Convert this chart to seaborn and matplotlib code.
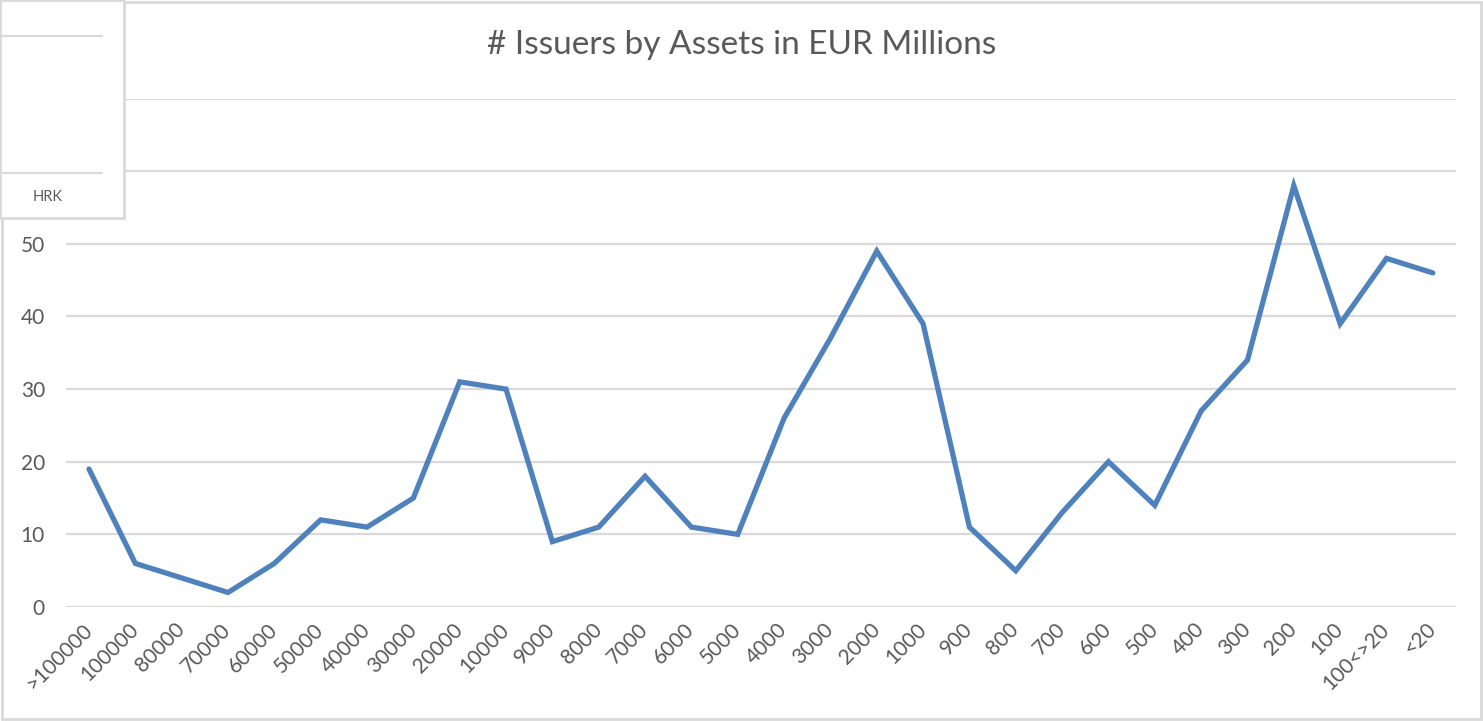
import numpy as np
import pandas as pd
import matplotlib
matplotlib.use('Agg')
import matplotlib.pyplot as plt
import seaborn as sns
from matplotlib.patches import Rectangle
from matplotlib.lines import Line2D

# asset buckets (EUR millions) and number of issuers in each
buckets = ['>100000', '100000', '80000', '70000', '60000', '50000', '40000',
           '30000', '20000', '10000', '9000', '8000', '7000', '6000', '5000',
           '4000', '3000', '2000', '1000', '900', '800', '700', '600', '500',
           '400', '300', '200', '100', '100<>20', '<20']
issuers = [19, 6, 4, 2, 6, 12, 11, 15, 31, 30, 9, 11, 18, 11, 10,
           26, 37, 49, 39, 11, 5, 13, 20, 14, 27, 34, 58, 39, 48, 46]
y_ticks = [0, 10, 20, 30, 40, 50, 60, 70]

df = pd.DataFrame({'bucket': buckets, 'issuers': issuers})

sns.set_theme(style='white')
plt.rcParams['font.family'] = ['Lato', 'DejaVu Sans']

grey_txt = '#595959'
grey_line = '#D9D9D9'
blue = '#4F81BD'

fig = plt.figure(figsize=(14.83, 7.21), dpi=100)
ax = fig.add_axes([0.04437, 0.15811, 0.93742, 0.70514])

sns.lineplot(data=df, x='bucket', y='issuers', sort=False, ax=ax,
             color=blue, linewidth=3.8, solid_joinstyle='miter')

ax.set_xlim(-0.5, len(buckets) - 0.5)
ax.set_ylim(0, 70)
ax.set_yticks(y_ticks)
ax.yaxis.grid(True, color=grey_line, linewidth=1.6)
ax.set_axisbelow(True)
for s in ax.spines.values():
    s.set_visible(False)
ax.set_xlabel('')
ax.set_ylabel('')
ax.tick_params(axis='y', length=0, pad=15, labelsize=15, labelcolor=grey_txt)
ax.tick_params(axis='x', length=0, pad=14, labelsize=15, labelcolor=grey_txt)
plt.setp(ax.get_xticklabels(), rotation=45, ha='right', va='center',
         rotation_mode='anchor')

# chart frame
fig.add_artist(Rectangle((0.0015, 0.003), 0.997, 0.994, transform=fig.transFigure,
                         fill=False, edgecolor=grey_line, linewidth=2))

fig.text(0.5, 1 - 45 / 721, '# Issuers by Assets in EUR Millions',
         ha='center', va='center', fontsize=24, color=grey_txt)

# pasted box covering the top-left corner
box_w, box_h = 124 / 1483, 218 / 721
fig.add_artist(Rectangle((0, 1 - box_h), box_w, box_h, transform=fig.transFigure,
                         facecolor='white', edgecolor=grey_line, linewidth=2, zorder=5))
for yy in (36, 173):
    fig.add_artist(Line2D([0, 102 / 1483], [1 - yy / 721, 1 - yy / 721],
                          transform=fig.transFigure, color=grey_line,
                          linewidth=1.5, zorder=6))
fig.text(48 / 1483, 1 - 197 / 721, 'HRK', ha='center', va='center',
         fontsize=10.5, color=grey_txt, zorder=6)

fig.savefig('out.png', dpi=100, facecolor='white')
